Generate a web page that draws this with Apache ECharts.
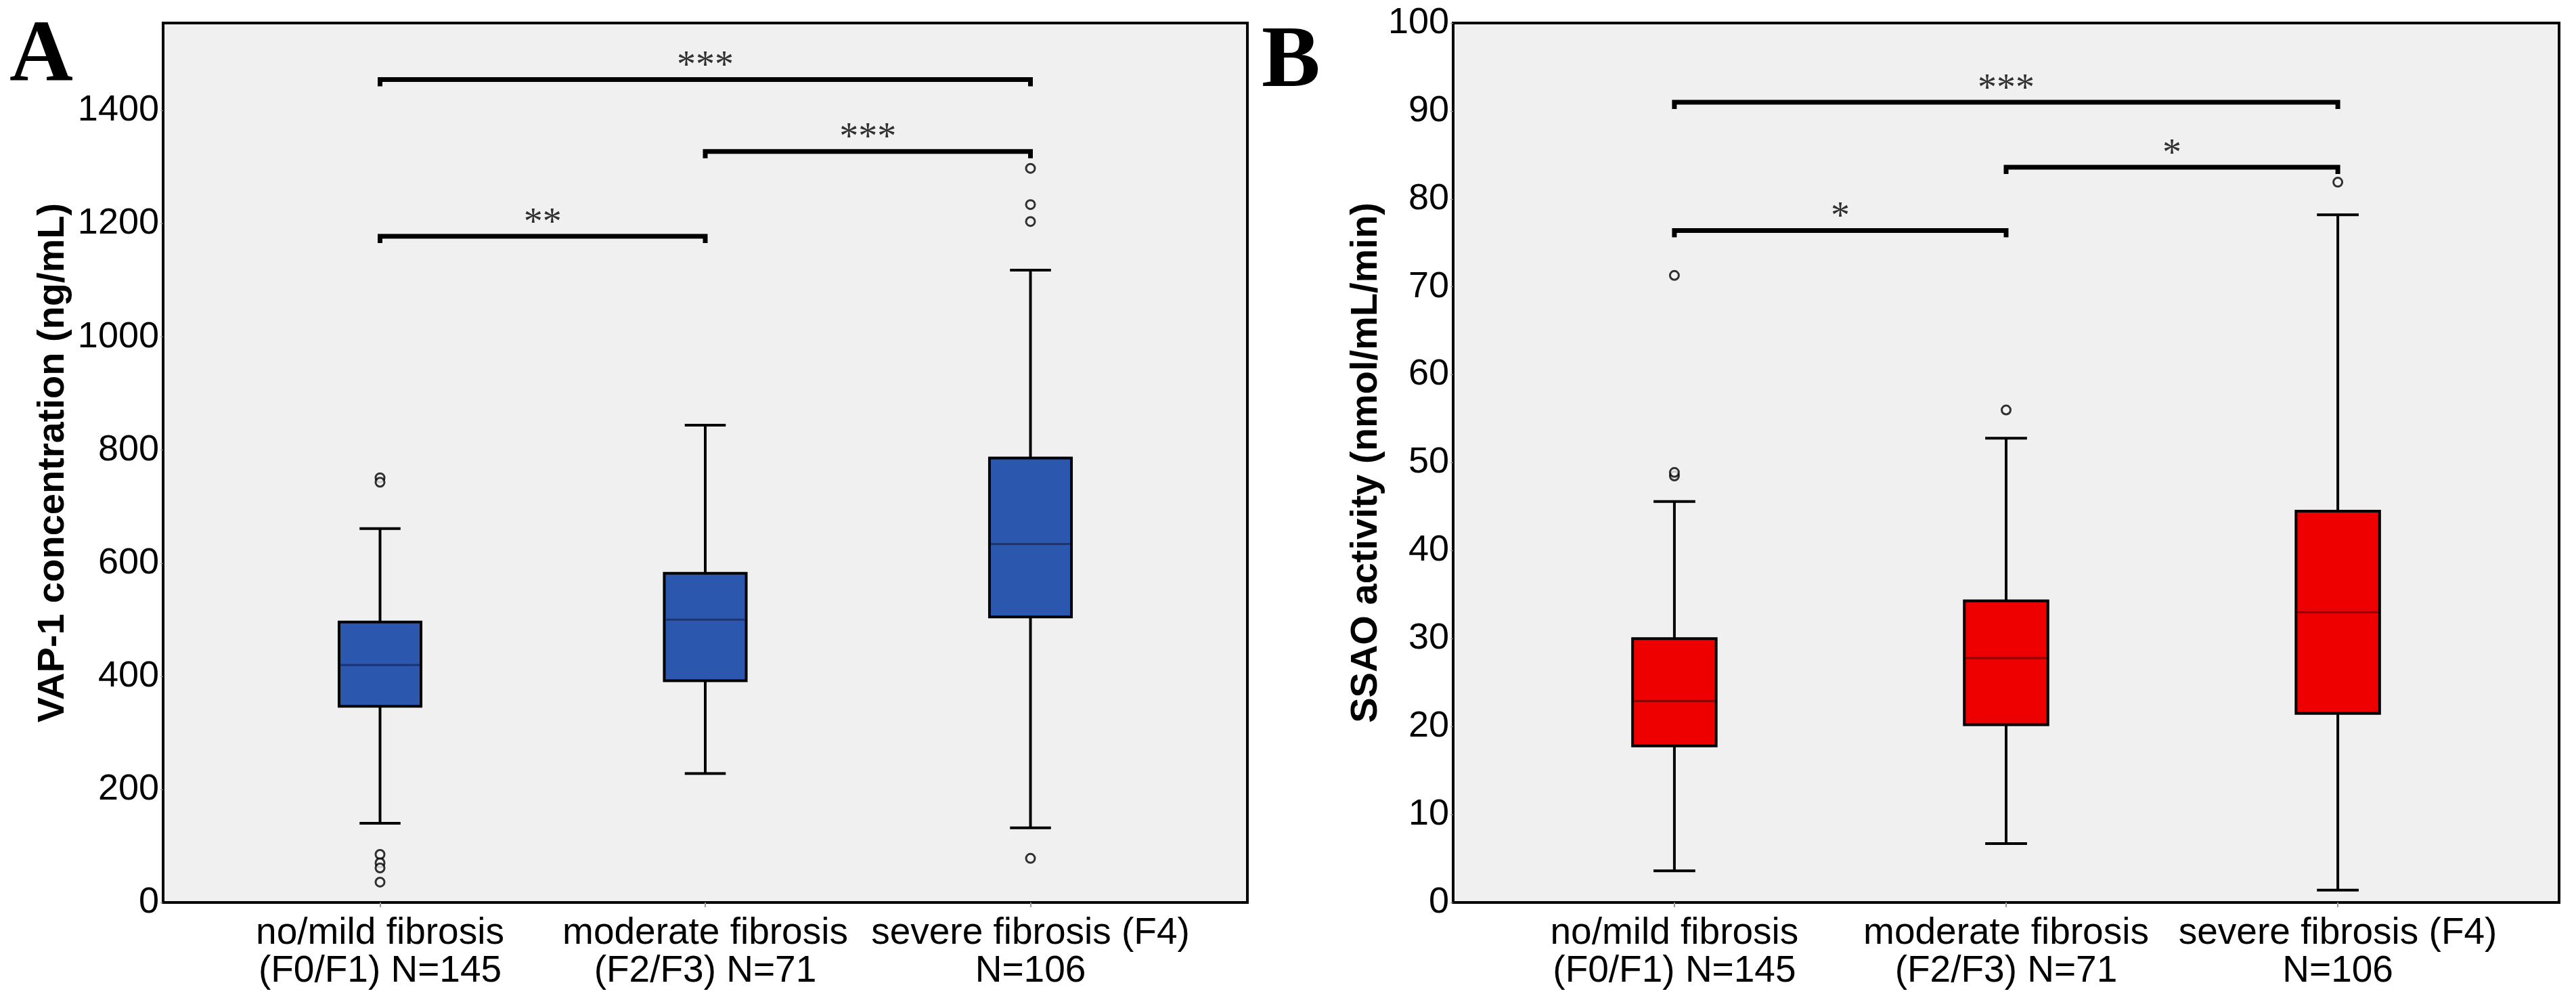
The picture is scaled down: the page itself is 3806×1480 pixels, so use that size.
<!DOCTYPE html>
<html>
<head>
<meta charset="utf-8">
<title>VAP-1 / SSAO by fibrosis stage</title>
<script src="https://cdn.jsdelivr.net/npm/echarts@6.0.0/dist/echarts.min.js"></script>
<style>
    html, body { margin: 0; padding: 0; background: #fff; }
    #chart { width: 3806px; height: 1480px; }
</style>
</head>
<body>
<div id="chart"></div>
<script>
// categories (x = 1, 2, 3)
var categories = ['no/mild fibrosis\n(F0/F1) N=145', 'moderate fibrosis\n(F2/F3) N=71', 'severe fibrosis (F4)\nN=106'];
var catPos = [1, 2, 3];

// panel A: VAP-1 concentration (ng/mL)   [min, Q1, median, Q3, max]
var vapBox = [
    [140, 347, 420, 496, 661],
    [228, 392, 500, 582, 844],
    [132, 505, 634, 786, 1118]
];
var vapOutliers = [[1, 751], [1, 743], [1, 85], [1, 70], [1, 61], [1, 36], [3, 1298], [3, 1234], [3, 1204], [3, 78]];
var vapBrackets = [[1, 3, 1455, '***'], [2, 3, 1328, '***'], [1, 2, 1178, '**']];
var vapTicks = [0, 200, 400, 600, 800, 1000, 1200, 1400];

// panel B: SSAO activity (nmol/mL/min)
var ssaoBox = [
    [3.6, 17.8, 22.9, 30.0, 45.6],
    [6.7, 20.2, 27.8, 34.3, 52.8],
    [1.4, 21.5, 33.0, 44.5, 78.2]
];
var ssaoOutliers = [[1, 71.3], [1, 48.5], [1, 48.9], [2, 56.0], [3, 81.9]];
var ssaoBrackets = [[1, 3, 91.0, '***'], [2, 3, 83.6, '*'], [1, 2, 76.4, '*']];

var sans = 'Liberation Sans, Arial, sans-serif';
var serif = 'Liberation Serif, Times New Roman, serif';

var chart = echarts.init(document.getElementById('chart'));

function boxRenderer(fill, medColor) {
    return function (params, api) {
        var x = api.value(0);
        var lo = api.coord([x, api.value(1)]);
        var q1 = api.coord([x, api.value(2)]);
        var md = api.coord([x, api.value(3)]);
        var q3 = api.coord([x, api.value(4)]);
        var hi = api.coord([x, api.value(5)]);
        var bw = api.size([0.252, 0])[0];
        var cx = lo[0];
        var st = {stroke: '#000', lineWidth: 4};
        return {
            type: 'group',
            children: [
                {type: 'line', shape: {x1: cx, y1: hi[1], x2: cx, y2: q3[1]}, style: st},
                {type: 'line', shape: {x1: cx, y1: q1[1], x2: cx, y2: lo[1]}, style: st},
                {type: 'line', shape: {x1: cx - bw / 4, y1: hi[1], x2: cx + bw / 4, y2: hi[1]}, style: st},
                {type: 'line', shape: {x1: cx - bw / 4, y1: lo[1], x2: cx + bw / 4, y2: lo[1]}, style: st},
                {type: 'rect', shape: {x: cx - bw / 2, y: q3[1], width: bw, height: q1[1] - q3[1]},
                    style: {fill: fill, stroke: '#000', lineWidth: 4}},
                {type: 'line', shape: {x1: cx - bw / 2 + 2, y1: md[1], x2: cx + bw / 2 - 2, y2: md[1]},
                    style: {stroke: medColor, lineWidth: 3}}
            ]
        };
    };
}

function boxData(box) {
    var out = [];
    for (var i = 0; i < box.length; i++) {
        out.push([catPos[i]].concat(box[i]));
    }
    return out;
}

function $each(arr, fn) {
    for (var i = 0; i < arr.length; i++) fn(arr[i], i);
}

function bracketSeries(brackets, idx, drop) {
    var list = [];
    $each(brackets, function (b) {
        list.push({
            type: 'line',
            xAxisIndex: idx, yAxisIndex: idx,
            data: [[b[0], b[2] - drop], [b[0], b[2]], [b[1], b[2]], [b[1], b[2] - drop]],
            symbol: 'none',
            lineStyle: {color: '#000', width: 7, cap: 'butt', join: 'miter'},
            silent: true, z: 5
        });
        list.push({
            type: 'scatter',
            xAxisIndex: idx, yAxisIndex: idx,
            data: [[(b[0] + b[1]) / 2, b[2]]],
            symbolSize: 0,
            label: {
                show: true, position: 'top', distance: -10,
                formatter: b[3],
                fontFamily: serif, fontSize: 56, color: '#000'
            },
            silent: true, z: 6
        });
    });
    return list;
}

function xAxisFor(idx) {
    return {
        type: 'value', gridIndex: idx,
        min: 0.333, max: 3.667,
        splitLine: {show: false},
        axisLine: {show: false},
        axisTick: {show: true, customValues: catPos, length: 7, lineStyle: {color: '#999', width: 2}},
        axisLabel: {
            customValues: catPos,
            formatter: function (v) { return categories[Math.round(v) - 1]; },
            fontFamily: sans, fontSize: 55, lineHeight: 56, color: '#000', margin: 18
        }
    };
}

function yAxisFor(idx, max, ticks, name, gap) {
    var ax = {
        type: 'value', gridIndex: idx,
        min: 0, max: max,
        name: name, nameLocation: 'middle', nameGap: gap,
        nameTextStyle: {fontFamily: sans, fontWeight: 'bold', fontSize: 56, color: '#000'},
        splitLine: {show: false},
        axisLine: {show: false},
        axisTick: {show: true, length: 4, lineStyle: {color: '#999', width: 1}},
        axisLabel: {
            fontFamily: sans, fontSize: 54, color: '#000', margin: 6, padding: [20, 0, 0, 0],
            formatter: function (v) { return String(v); }
        }
    };
    if (ticks) {
        ax.axisTick.customValues = ticks;
        ax.axisLabel.customValues = ticks;
    } else {
        ax.interval = 10;
    }
    return ax;
}

var series = [
    {
        type: 'custom', xAxisIndex: 0, yAxisIndex: 0,
        renderItem: boxRenderer('#2b57ae', '#1c3470'),
        encode: {x: 0, y: [1, 2, 3, 4, 5]},
        data: boxData(vapBox), z: 3
    },
    {
        type: 'custom', xAxisIndex: 1, yAxisIndex: 1,
        renderItem: boxRenderer('#ee0000', '#8a0000'),
        encode: {x: 0, y: [1, 2, 3, 4, 5]},
        data: boxData(ssaoBox), z: 3
    },
    {
        type: 'scatter', xAxisIndex: 0, yAxisIndex: 0,
        data: vapOutliers, symbol: 'circle', symbolSize: 13,
        itemStyle: {color: '#f4f4f4', borderColor: '#000', borderWidth: 3}, z: 4
    },
    {
        type: 'scatter', xAxisIndex: 1, yAxisIndex: 1,
        data: ssaoOutliers, symbol: 'circle', symbolSize: 13,
        itemStyle: {color: '#f4f4f4', borderColor: '#000', borderWidth: 3}, z: 4
    }
].concat(bracketSeries(vapBrackets, 0, 12)).concat(bracketSeries(ssaoBrackets, 1, 0.77));

var option = {
    backgroundColor: '#fff',
    animation: false,
    title: [
        {text: 'A', left: 14, top: 19, padding: 0,
            textStyle: {fontFamily: serif, fontWeight: 'bold', fontSize: 130, color: '#000'}},
        {text: 'B', left: 1864, top: 28, padding: 0,
            textStyle: {fontFamily: serif, fontWeight: 'bold', fontSize: 130, color: '#000'}}
    ],
    grid: [
        {left: 241, right: 1963, top: 34, bottom: 147, show: true,
            backgroundColor: '#f0f0f0', borderColor: '#000', borderWidth: 4},
        {left: 2147, right: 25, top: 34, bottom: 147, show: true,
            backgroundColor: '#f0f0f0', borderColor: '#000', borderWidth: 4}
    ],
    xAxis: [xAxisFor(0), xAxisFor(1)],
    yAxis: [
        yAxisFor(0, 1555, vapTicks, 'VAP-1 concentration (ng/mL)', 134),
        yAxisFor(1, 100, null, 'SSAO activity (nmol/mL/min)', 100)
    ],
    series: series
};

chart.setOption(option);
</script>
</body>
</html>
